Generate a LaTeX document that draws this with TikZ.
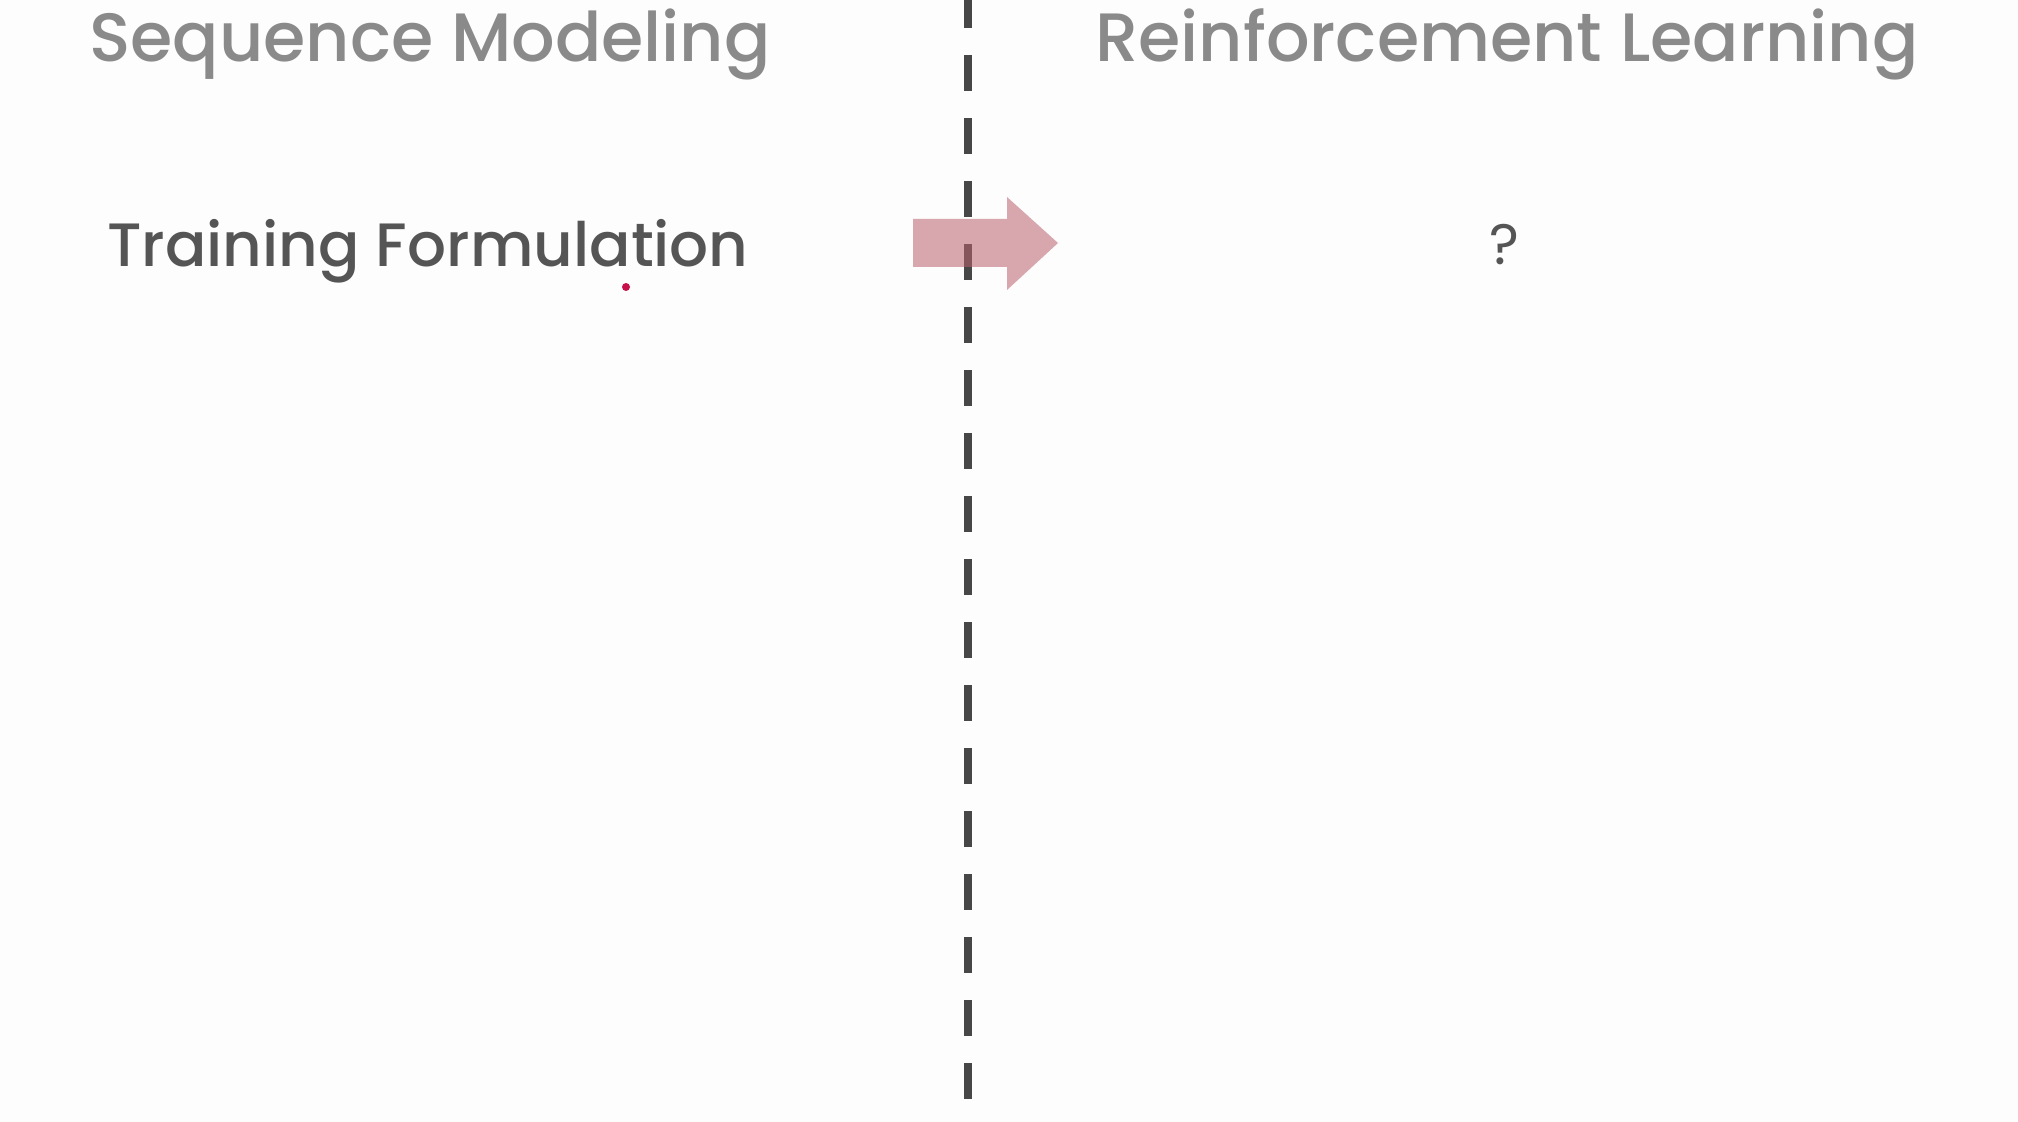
\documentclass[tikz,border=0pt]{standalone}
\usepackage{fontspec}
\setmainfont{Poppins Medium}
\newfontfamily\qfont{Poppins}
\definecolor{bgc}{HTML}{FDFDFD}
\definecolor{titlec}{HTML}{8A8A8A}
\definecolor{textc}{HTML}{555555}
\definecolor{dashc}{HTML}{474747}
\definecolor{arrowc}{RGB}{186,97,108}
\definecolor{dotc}{HTML}{C8104A}
\tikzset{
  titletext/.style={font=\fontsize{34.2}{40}\selectfont, text=titlec, inner sep=0pt, anchor=base},
  bodytext/.style={font=\fontsize{30.6}{38}\selectfont, text=textc, inner sep=0pt, anchor=base},
  divider/.style={draw=dashc, line width=4pt, dash pattern=on 18pt off 13.5pt},
  blockarrow/.style={fill=arrowc, fill opacity=0.55, draw=none},
}
\begin{document}
\begin{tikzpicture}[x=0.5pt,y=-0.5pt]
  \fill[bgc] (0,0) rectangle (2018,1122);
  \useasboundingbox (0,0) rectangle (2018,1122);
  \coordinate (dtop) at (968,-8);
  \coordinate (dbot) at (968,1099);
  \draw[divider] (dtop) -- (dbot);
  \node[titletext] (seq) at (430,62) {Sequence Modeling};
  \node[titletext] (rl) at (1507,62) {Reinforcement Learning};
  \node[bodytext] (train) at (428,267) {Training Formulation};
  \node[bodytext, font=\qfont\fontsize{28.5}{34}\selectfont] (q) at (1504,265) {?};
  \fill[blockarrow] (913,219) -- (1007,219) -- (1007,197) -- (1058,243) -- (1007,290) -- (1007,267) -- (913,267) -- cycle;
  \fill[dotc] (626,287) circle (4);
\end{tikzpicture}
\end{document}
